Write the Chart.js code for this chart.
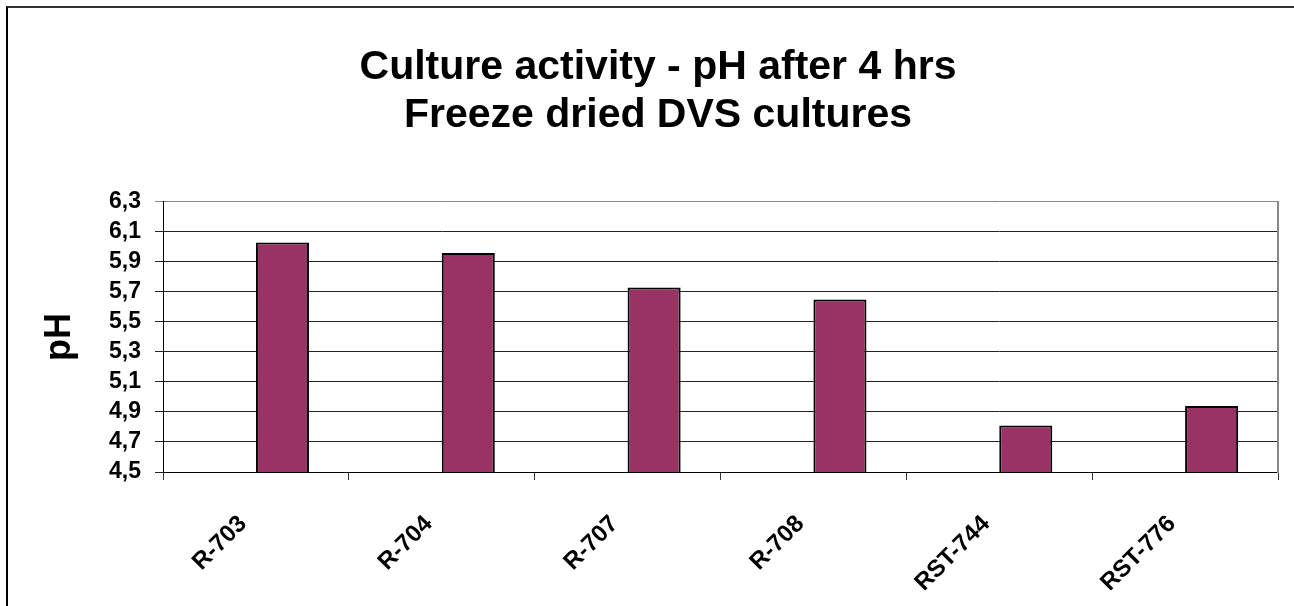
<!DOCTYPE html>
<html>
<head>
<meta charset="utf-8">
<script src="https://cdn.jsdelivr.net/npm/chart.js@4"></script>
<style>
    html, body { margin: 0; padding: 0; background: #fff; }
    #frame {
        position: absolute;
        left: 6px;
        top: 6px;
        width: 1286px;
        height: 598px;
        border-left: 2px solid #000;
        border-top: 2px solid #333;
    }
</style>
</head>
<body>
<div id="frame"><canvas id="phChart"></canvas></div>
<script>
// chart data
const titleLines = ['Culture activity - pH after 4 hrs', 'Freeze dried DVS cultures'];
const cultures = ['R-703', 'R-704', 'R-707', 'R-708', 'RST-744', 'RST-776'];
const phValues = [6.03, 5.96, 5.73, 5.65, 4.81, 4.94];
const yTicks = [4.5, 4.7, 4.9, 5.1, 5.3, 5.5, 5.7, 5.9, 6.1, 6.3];

const FONT = "'Liberation Sans', Arial, sans-serif";

document.addEventListener("DOMContentLoaded", function () {
    const ctx = document.getElementById('phChart');

    new Chart(ctx, {
        type: 'bar',
        data: {
            labels: cultures,
            datasets: [{
                // empty first series keeps the bars in the right half of each slot
                label: '',
                data: cultures.map(() => null)
            }, {
                label: 'pH',
                data: phValues,
                backgroundColor: '#993366',
                borderColor: '#000',
                borderWidth: 2
            }]
        },
        options: {
            responsive: true,
            maintainAspectRatio: false,
            animation: false,
            categoryPercentage: 0.571,
            barPercentage: 1,
            layout: {
                padding: { left: 30, right: 16, top: 0, bottom: 0 }
            },
            plugins: {
                legend: { display: false },
                tooltip: { enabled: false },
                title: {
                    display: true,
                    text: titleLines,
                    color: '#000',
                    font: { family: FONT, size: 41, weight: 'bold', lineHeight: 1.17 },
                    padding: { top: 36, bottom: 62 }
                }
            },
            scales: {
                x: {
                    afterFit: function (scale) { scale.height = 134; },
                    grid: {
                        drawOnChartArea: false,
                        tickLength: 8,
                        color: '#333',
                        offset: true
                    },
                    border: { color: '#000', width: 1 },
                    ticks: {
                        color: '#000',
                        minRotation: 45,
                        maxRotation: 45,
                        padding: 30,
                        labelOffset: -13,
                        font: { family: FONT, size: 24, weight: 'bold' }
                    }
                },
                y: {
                    min: 4.5,
                    max: 6.3,
                    afterFit: function (scale) { scale.width = 125; },
                    afterBuildTicks: function (scale) {
                        scale.ticks = yTicks.map(v => ({ value: v }));
                    },
                    grid: {
                        color: c => (c.tick && c.tick.value === 6.3) ? '#888' : '#222',
                        lineWidth: 1,
                        tickLength: 8
                    },
                    border: { color: '#000', width: 1 },
                    ticks: {
                        color: '#000',
                        padding: 14,
                        autoSkip: false,
                        font: { family: FONT, size: 23, weight: 'bold' },
                        callback: v => v.toFixed(1).replace('.', ',')
                    },
                    title: {
                        display: true,
                        text: 'pH',
                        color: '#000',
                        padding: { top: 0, bottom: 0 },
                        font: { family: FONT, size: 36, weight: 'bold' }
                    }
                },
                yRight: {
                    position: 'right',
                    min: 4.5,
                    max: 6.3,
                    grid: { drawOnChartArea: false, drawTicks: false },
                    border: { color: '#888', width: 2 },
                    ticks: { display: false }
                }
            }
        }
    });
});
</script>
</body>
</html>
